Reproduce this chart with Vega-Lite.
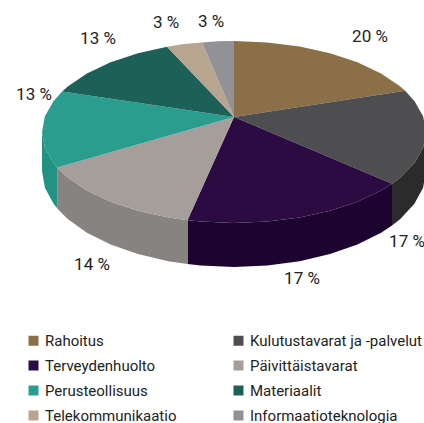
{"$schema":"https://vega.github.io/schema/vega-lite/v6.json","width":424,"height":423,"padding":0,"autosize":"none","background":"white","config":{"view":{"stroke":null},"font":"Roboto"},
"datasets":{
"top":[
{"s":"Rahoitus","n":0,"x":234,"y":117},{"s":"Rahoitus","n":1,"x":234,"y":41},{"s":"Rahoitus","n":2,"x":267.3,"y":42.4},{"s":"Rahoitus","n":3,"x":299.7,"y":46.5},{"s":"Rahoitus","n":4,"x":330,"y":53.2},{"s":"Rahoitus","n":5,"x":357.4,"y":62.3},{"s":"Rahoitus","n":6,"x":381.1,"y":73.5},{"s":"Rahoitus","n":7,"x":400.3,"y":86.5},{"s":"Rahoitus","n":8,"x":405.1,"y":90.7},
{"s":"Kulutustavarat ja -palvelut","n":0,"x":234,"y":117},{"s":"Kulutustavarat ja -palvelut","n":1,"x":405.1,"y":90.7},{"s":"Kulutustavarat ja -palvelut","n":2,"x":414.4,"y":100.9},{"s":"Kulutustavarat ja -palvelut","n":3,"x":423.1,"y":116.2},{"s":"Kulutustavarat ja -palvelut","n":4,"x":426,"y":132},{"s":"Kulutustavarat ja -palvelut","n":5,"x":423.1,"y":147.8},{"s":"Kulutustavarat ja -palvelut","n":6,"x":414.4,"y":163.1},{"s":"Kulutustavarat ja -palvelut","n":7,"x":400.3,"y":177.5},{"s":"Kulutustavarat ja -palvelut","n":8,"x":392,"y":183.7},
{"s":"Terveydenhuolto","n":0,"x":234,"y":117},{"s":"Terveydenhuolto","n":1,"x":392,"y":183.7},{"s":"Terveydenhuolto","n":2,"x":381.1,"y":190.5},{"s":"Terveydenhuolto","n":3,"x":357.4,"y":201.7},{"s":"Terveydenhuolto","n":4,"x":330,"y":210.8},{"s":"Terveydenhuolto","n":5,"x":299.7,"y":217.5},{"s":"Terveydenhuolto","n":6,"x":267.3,"y":221.6},{"s":"Terveydenhuolto","n":7,"x":234,"y":223},{"s":"Terveydenhuolto","n":8,"x":200.7,"y":221.6},{"s":"Terveydenhuolto","n":9,"x":187.5,"y":220.3},
{"s":"Päivittäistavarat","n":0,"x":234,"y":117},{"s":"Päivittäistavarat","n":1,"x":187.5,"y":220.3},{"s":"Päivittäistavarat","n":2,"x":168.3,"y":217.5},{"s":"Päivittäistavarat","n":3,"x":138,"y":210.8},{"s":"Päivittäistavarat","n":4,"x":110.6,"y":201.7},{"s":"Päivittäistavarat","n":5,"x":86.9,"y":190.5},{"s":"Päivittäistavarat","n":6,"x":67.7,"y":177.5},{"s":"Päivittäistavarat","n":7,"x":57.3,"y":167.5},
{"s":"Perusteollisuus","n":0,"x":234,"y":117},{"s":"Perusteollisuus","n":1,"x":57.3,"y":167.5},{"s":"Perusteollisuus","n":2,"x":53.6,"y":163.1},{"s":"Perusteollisuus","n":3,"x":44.9,"y":147.8},{"s":"Perusteollisuus","n":4,"x":42,"y":132},{"s":"Perusteollisuus","n":5,"x":44.9,"y":116.2},{"s":"Perusteollisuus","n":6,"x":53.6,"y":100.9},{"s":"Perusteollisuus","n":7,"x":62.2,"y":91.4},
{"s":"Materiaalit","n":0,"x":234,"y":117},{"s":"Materiaalit","n":1,"x":62.2,"y":91.4},{"s":"Materiaalit","n":2,"x":67.7,"y":86.5},{"s":"Materiaalit","n":3,"x":86.9,"y":73.5},{"s":"Materiaalit","n":4,"x":110.6,"y":62.3},{"s":"Materiaalit","n":5,"x":138,"y":53.2},{"s":"Materiaalit","n":6,"x":167,"y":46.7},
{"s":"Telekommunikaatio","n":0,"x":234,"y":117},{"s":"Telekommunikaatio","n":1,"x":167,"y":46.7},{"s":"Telekommunikaatio","n":2,"x":184,"y":44},{"s":"Telekommunikaatio","n":3,"x":202,"y":42.5},
{"s":"Informaatioteknologia","n":0,"x":234,"y":117},{"s":"Informaatioteknologia","n":1,"x":202,"y":42.5},{"s":"Informaatioteknologia","n":2,"x":218,"y":41.3},{"s":"Informaatioteknologia","n":3,"x":234,"y":41}
],
"side":[
{"s":"Kulutustavarat sivu","n":0,"x":426,"y":132},{"s":"Kulutustavarat sivu","n":1,"x":423.1,"y":147.8},{"s":"Kulutustavarat sivu","n":2,"x":414.4,"y":163.1},{"s":"Kulutustavarat sivu","n":3,"x":400.3,"y":177.5},{"s":"Kulutustavarat sivu","n":4,"x":392,"y":183.7},{"s":"Kulutustavarat sivu","n":5,"x":392,"y":225.5},{"s":"Kulutustavarat sivu","n":6,"x":400.3,"y":219},{"s":"Kulutustavarat sivu","n":7,"x":414.4,"y":203.8},{"s":"Kulutustavarat sivu","n":8,"x":423.1,"y":187.7},{"s":"Kulutustavarat sivu","n":9,"x":426,"y":171},
{"s":"Terveydenhuolto sivu","n":0,"x":392,"y":183.7},{"s":"Terveydenhuolto sivu","n":1,"x":381.1,"y":190.5},{"s":"Terveydenhuolto sivu","n":2,"x":357.4,"y":201.7},{"s":"Terveydenhuolto sivu","n":3,"x":330,"y":210.8},{"s":"Terveydenhuolto sivu","n":4,"x":299.7,"y":217.5},{"s":"Terveydenhuolto sivu","n":5,"x":267.3,"y":221.6},{"s":"Terveydenhuolto sivu","n":6,"x":234,"y":223},{"s":"Terveydenhuolto sivu","n":7,"x":200.7,"y":221.6},{"s":"Terveydenhuolto sivu","n":8,"x":187.5,"y":220.3},{"s":"Terveydenhuolto sivu","n":9,"x":187.5,"y":264.1},{"s":"Terveydenhuolto sivu","n":10,"x":200.7,"y":265.5},{"s":"Terveydenhuolto sivu","n":11,"x":234,"y":267},{"s":"Terveydenhuolto sivu","n":12,"x":267.3,"y":265.5},{"s":"Terveydenhuolto sivu","n":13,"x":299.7,"y":261.2},{"s":"Terveydenhuolto sivu","n":14,"x":330,"y":254.1},{"s":"Terveydenhuolto sivu","n":15,"x":357.4,"y":244.5},{"s":"Terveydenhuolto sivu","n":16,"x":381.1,"y":232.7},{"s":"Terveydenhuolto sivu","n":17,"x":392,"y":225.5},
{"s":"Päivittäistavarat sivu","n":0,"x":187.5,"y":220.3},{"s":"Päivittäistavarat sivu","n":1,"x":168.3,"y":217.5},{"s":"Päivittäistavarat sivu","n":2,"x":138,"y":210.8},{"s":"Päivittäistavarat sivu","n":3,"x":110.6,"y":201.7},{"s":"Päivittäistavarat sivu","n":4,"x":86.9,"y":190.5},{"s":"Päivittäistavarat sivu","n":5,"x":67.7,"y":177.5},{"s":"Päivittäistavarat sivu","n":6,"x":57.3,"y":167.5},{"s":"Päivittäistavarat sivu","n":7,"x":57.3,"y":208.5},{"s":"Päivittäistavarat sivu","n":8,"x":67.7,"y":219},{"s":"Päivittäistavarat sivu","n":9,"x":86.9,"y":232.7},{"s":"Päivittäistavarat sivu","n":10,"x":110.6,"y":244.5},{"s":"Päivittäistavarat sivu","n":11,"x":138,"y":254.1},{"s":"Päivittäistavarat sivu","n":12,"x":168.3,"y":261.2},{"s":"Päivittäistavarat sivu","n":13,"x":187.5,"y":264.1},
{"s":"Perusteollisuus sivu","n":0,"x":57.3,"y":167.5},{"s":"Perusteollisuus sivu","n":1,"x":53.6,"y":163.1},{"s":"Perusteollisuus sivu","n":2,"x":44.9,"y":147.8},{"s":"Perusteollisuus sivu","n":3,"x":42,"y":132},{"s":"Perusteollisuus sivu","n":4,"x":42,"y":171},{"s":"Perusteollisuus sivu","n":5,"x":44.9,"y":187.7},{"s":"Perusteollisuus sivu","n":6,"x":53.6,"y":203.8},{"s":"Perusteollisuus sivu","n":7,"x":57.3,"y":208.5}
],
"labels":[
{"s":"Rahoitus","share":"20 %","x":370,"y":37},{"s":"Kulutustavarat ja -palvelut","share":"17 %","x":407,"y":242},{"s":"Terveydenhuolto","share":"17 %","x":302,"y":279},{"s":"Päivittäistavarat","share":"14 %","x":92,"y":265},{"s":"Perusteollisuus","share":"13 %","x":34,"y":95},{"s":"Materiaalit","share":"13 %","x":98,"y":39},{"s":"Telekommunikaatio","share":"3 %","x":166,"y":23},{"s":"Informaatioteknologia","share":"3 %","x":211,"y":22}
]},
"layer":[
{"data":{"name":"side"},"mark":{"type":"line","interpolate":"linear-closed","stroke":null},"encoding":{
"x":{"field":"x","type":"quantitative","scale":{"domain":[0,424]},"axis":null},
"y":{"field":"y","type":"quantitative","scale":{"domain":[423,0]},"axis":null},
"order":{"field":"n","type":"quantitative"},
"fill":{"field":"s","type":"nominal","legend":null,"scale":{"domain":["Kulutustavarat sivu","Terveydenhuolto sivu","Päivittäistavarat sivu","Perusteollisuus sivu"],"range":["#2b2b2c","#1c0330","#868381","#229284"]}}}},
{"data":{"name":"top"},"mark":{"type":"line","interpolate":"linear-closed","stroke":null},"encoding":{
"x":{"field":"x","type":"quantitative","scale":{"domain":[0,424]},"axis":null},
"y":{"field":"y","type":"quantitative","scale":{"domain":[423,0]},"axis":null},
"order":{"field":"n","type":"quantitative"},
"fill":{"field":"s","type":"nominal","scale":{"domain":["Rahoitus","Kulutustavarat ja -palvelut","Terveydenhuolto","Päivittäistavarat","Perusteollisuus","Materiaalit","Telekommunikaatio","Informaatioteknologia"],"range":["#8a6f47","#4e4e50","#2c0a42","#a59e9b","#2a9d8f","#1d6058","#b8a590","#929296"]},
"legend":{"orient":"none","legendX":26,"legendY":333,"title":null,"direction":"horizontal","columns":2,"symbolType":"square","symbolSize":100,"symbolStrokeWidth":0,"labelFont":"Roboto","labelFontSize":15,"labelColor":"#222222","labelOffset":4,"rowPadding":9,"columnPadding":54,"labelLimit":300}}}},
{"data":{"name":"labels"},"mark":{"type":"text","font":"Roboto","fontSize":17,"color":"#222222","align":"center","baseline":"middle"},"encoding":{
"x":{"field":"x","type":"quantitative","scale":{"domain":[0,424]},"axis":null},
"y":{"field":"y","type":"quantitative","scale":{"domain":[423,0]},"axis":null},
"text":{"field":"share","type":"nominal"}}}
],
"resolve":{"scale":{"fill":"independent"}}}
